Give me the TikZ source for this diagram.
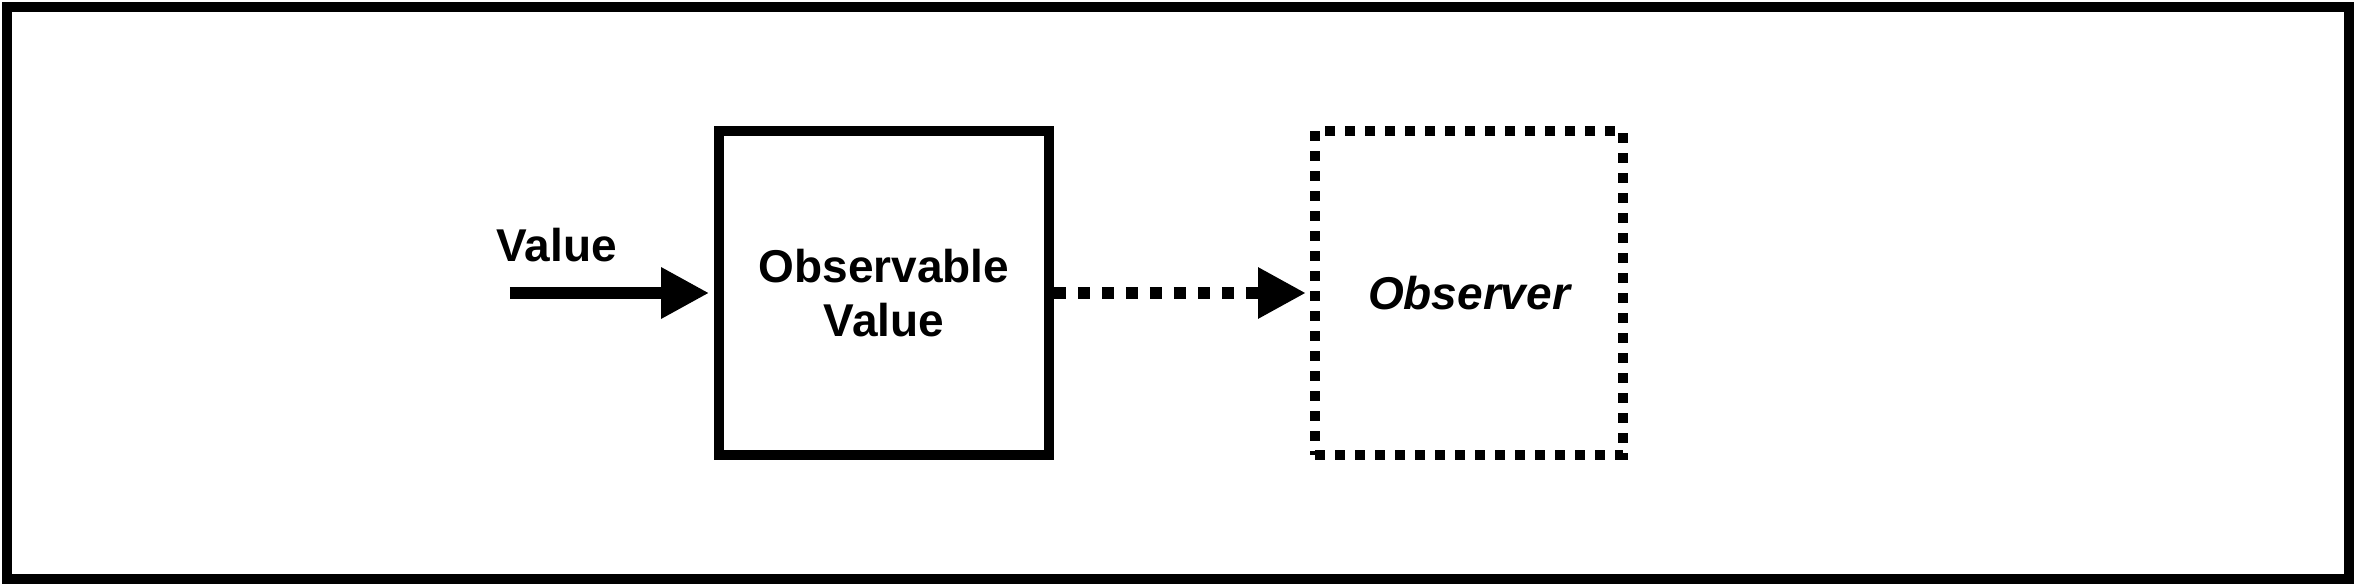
\documentclass[tikz,border=0pt]{standalone}
\usepackage{fontspec}
\setmainfont{Liberation Sans}
\usetikzlibrary{arrows.meta, positioning, calc}

\begin{document}
\begin{tikzpicture}[
        frame/.style={
            rectangle,
            draw=black,
            line width=2.5pt,
            minimum width=20.576cm,
            minimum height=5.025cm
        },
        valuebox/.style={
            rectangle,
            draw=black,
            line width=2.5pt,
            minimum width=2.899cm,
            minimum height=2.847cm,
            align=center,
            font=\fontsize{11.5}{13.5}\selectfont\bfseries
        },
        observerbox/.style={
            rectangle,
            draw=black,
            line width=2.5pt,
            dash pattern=on 2.5pt off 2.5pt,
            minimum width=2.706cm,
            minimum height=2.847cm,
            align=center,
            font=\fontsize{11.5}{13.5}\selectfont\bfseries\itshape
        },
        feed/.style={
            -{Triangle[length=12pt, width=12pt]},
            line width=3pt,
            shorten >=1.2pt
        },
        notify/.style={
            feed,
            dash pattern=on 3pt off 3pt,
            shorten >=1pt
        },
        lbl/.style={
            font=\fontsize{11.5}{13.5}\selectfont\bfseries,
            inner sep=0pt
        }
    ]
        \useasboundingbox (-10.3496,-2.5742) rectangle (10.3496,2.5742);
        \node[frame] (border) at (0,0) {};

        \node[valuebox] (obsval) at (-2.583,0) {Observable\\Value};
        \node[observerbox] (observer) at (2.557,0) {Observer};

        \coordinate (src) at (-5.869,0);
        \node[lbl, anchor=base west] (inlbl) at (-5.992,0.281) {Value};

        \draw[feed] (src) -- (obsval.west);
        \draw[notify] (obsval.east) -- (observer.west);
    \end{tikzpicture}
\end{document}
